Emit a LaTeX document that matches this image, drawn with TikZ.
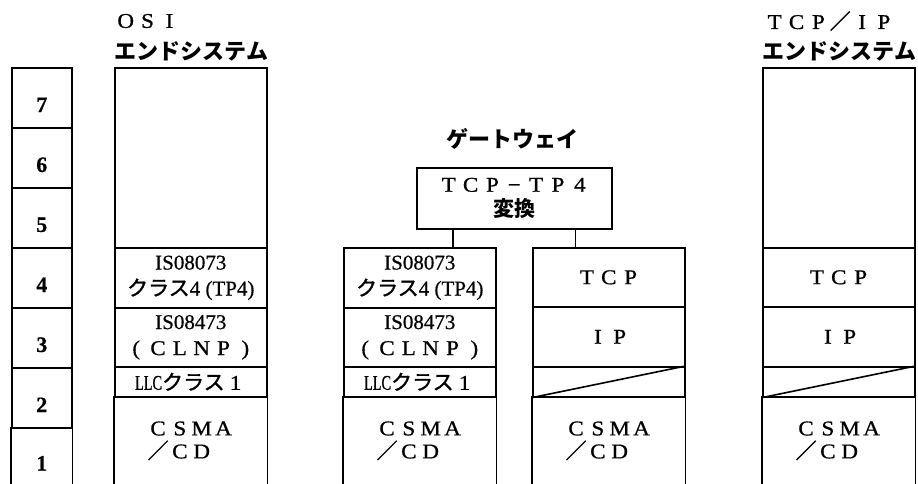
\documentclass[tikz,border=0pt]{standalone}
\usepackage{fontspec}
\setmainfont[FakeBold=0.6]{Liberation Serif}
\newfontfamily\jp[FakeBold=1.4]{Noto Sans CJK JP}
\newfontfamily\jphead{Noto Sans CJK JP}
\newfontfamily\narrowrm[FakeStretch=0.68,FakeBold=0.6]{Liberation Serif}
\newfontfamily\widerm[FakeStretch=1.1,FakeBold=0.8]{Liberation Serif}
\usetikzlibrary{positioning}
% full-width letters: every character in a box one em wide
\newcommand\fwbox[1]{\makebox[1.04em]{\widerm #1}}
\def\fw#1{\fwnext#1\relax}
\def\fwnext#1{\ifx#1\relax\else\fwbox{#1}\expandafter\fwnext\fi}
\newcommand\fwsl{{\jp ／}}

\begin{document}
\begin{tikzpicture}[
  x=1pt,y=-1pt,
  line width=1.6pt,
  every node/.style={font=\fontsize{21}{26}\selectfont,inner sep=0pt},
  cell/.style={draw,anchor=north west,minimum width=152pt,
    minimum height=#1,align=center},
  opencell/.style={anchor=north west,minimum width=152pt,
    minimum height=#1,align=left,font=\fontsize{21}{23}\selectfont},
  numcell/.style={draw,anchor=north west,minimum width=60pt,
    minimum height=#1},
  num/.style={font=\fontsize{22}{25}\selectfont\bfseries},
  head/.style={anchor=west,font=\fontsize{22}{26}\selectfont\jphead\bfseries}
]
  \useasboundingbox (0,0) rectangle (918,484);

  % layer numbers
  \node[numcell=60pt] (l7) at (11,67) {};
  \node[numcell=60pt] (l6) at (11,127) {};
  \node[numcell=60pt] (l5) at (11,187) {};
  \node[numcell=60pt] (l4) at (11,247) {};
  \node[numcell=60pt] (l3) at (11,307) {};
  \node[numcell=60pt] (l2) at (11,367) {};
  \node[anchor=north west,minimum width=60pt,minimum height=57pt] (l1) at (11,427) {};
  \draw (l1.north west) -- (l1.south west);
  \draw (l1.north east) -- (l1.south east);
  \node[num] (d7) at ([yshift=-7pt]l7.center) {7};
  \node[num] (d6) at ([yshift=-7pt]l6.center) {6};
  \node[num] (d5) at ([yshift=-7pt]l5.center) {5};
  \node[num] (d4) at ([yshift=-7pt]l4.center) {4};
  \node[num] (d3) at ([yshift=-7pt]l3.center) {3};
  \node[num] (d2) at ([yshift=-7pt]l2.center) {2};
  \node[num] (d1) at ([yshift=-7pt]l1.center) {1};

  % OSI end system
  \node[anchor=west] (osihd) at (114,21) {\fw{OSI}};
  \node[head] (osisys) at (114,51) {エンドシステム};
  \node[cell=180pt] (o7) at (114,67) {};
  \node[cell=60pt] (o4) at (114,247) {IS08073\\{\jp クラス}4 (TP4)};
  \node[cell=59pt] (o3) at (114,307) {IS08473\\\fw{(CLNP)}};
  \node[cell=30pt] (o2) at (114,366) {{\narrowrm LLC}{\jp クラス}\fw{1}};
  \node[opencell=88pt] (o1) at (114,396) {\fw{CSMA}\\\fw{\fwsl CD}};
  \draw (o1.north west) -- (o1.south west);
  \draw (o1.north east) -- (o1.south east);

  % gateway
  \node[head,anchor=center] (gwlbl) at (512,139) {ゲートウェイ};
  \node[cell=61pt,minimum width=195pt,font=\fontsize{21}{25}\selectfont]
    (gw) at (416,167) {\fw{TCP−TP4}\\{\jphead\bfseries 変換}};
  \node[cell=60pt] (gl4) at (343,247) {IS08073\\{\jp クラス}4 (TP4)};
  \node[cell=59pt] (gl3) at (343,307) {IS08473\\\fw{(CLNP)}};
  \node[cell=30pt] (gl2) at (343,366) {{\narrowrm LLC}{\jp クラス}\fw{1}};
  \node[opencell=88pt] (gl1) at (343,396) {\fw{CSMA}\\\fw{\fwsl CD}};
  \draw (gl1.north west) -- (gl1.south west);
  \draw (gl1.north east) -- (gl1.south east);
  \node[cell=59pt] (gr4) at (532,247) {\fw{TCP}};
  \node[cell=60pt] (gr3) at (532,306) {\fw{IP}};
  \node[cell=30pt] (gr2) at (532,366) {};
  \draw (gr2.south west) -- (gr2.north east);
  \node[opencell=88pt] (gr1) at (532,396) {\fw{CSMA}\\\fw{\fwsl CD}};
  \draw (gr1.north west) -- (gr1.south west);
  \draw (gr1.north east) -- (gr1.south east);
  \coordinate (gwl) at ([xshift=37pt]gw.south west);
  \coordinate (gwr) at ([xshift=-37pt]gw.south east);
  \draw (gwl) -- (gwl |- gl4.north);
  \draw (gwr) -- (gwr |- gr4.north);

  % TCP/IP end system
  \node[anchor=west] (tcphd) at (763,21) {\fw{TCP\fwsl IP}};
  \node[head] (tcpsys) at (762,51) {エンドシステム};
  \node[cell=180pt] (t7) at (762,67) {};
  \node[cell=59pt] (t4) at (762,247) {\fw{TCP}};
  \node[cell=60pt] (t3) at (762,306) {\fw{IP}};
  \node[cell=30pt] (t2) at (762,366) {};
  \draw (t2.south west) -- (t2.north east);
  \node[opencell=88pt] (t1) at (762,396) {\fw{CSMA}\\\fw{\fwsl CD}};
  \draw (t1.north west) -- (t1.south west);
  \draw (t1.north east) -- (t1.south east);
\end{tikzpicture}
\end{document}
